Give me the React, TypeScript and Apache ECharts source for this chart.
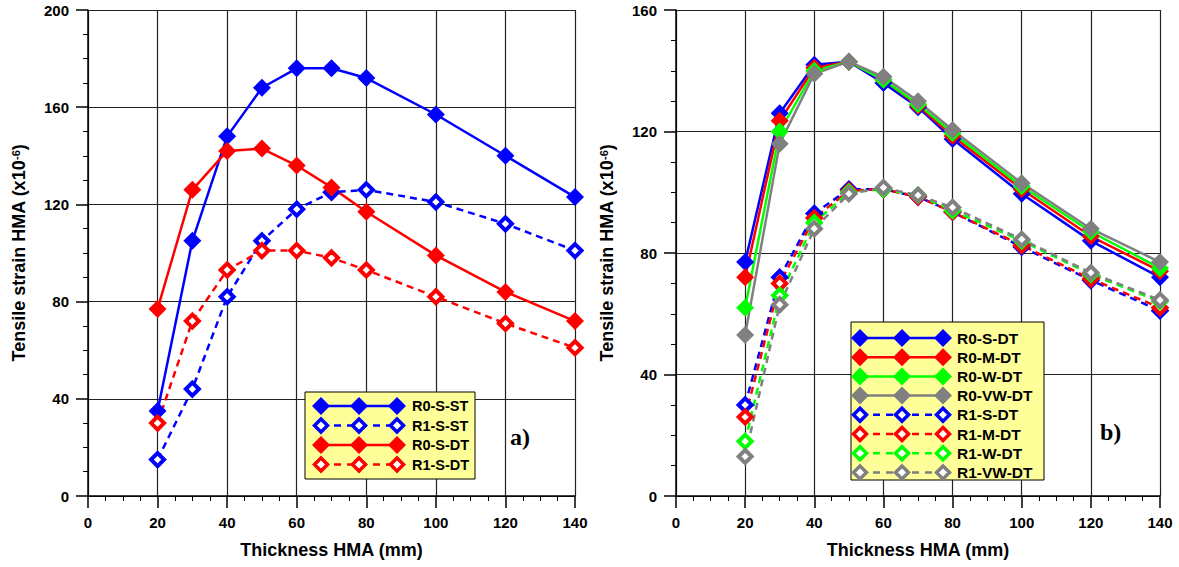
import React, { useEffect, useRef } from "react";
import * as echarts from "echarts";

const xValues = [20, 30, 40, 50, 60, 70, 80, 100, 120, 140];

// Panel a)
const aR0SST = [35, 105, 148, 168, 176, 176, 172, 157, 140, 123];
const aR1SST = [15, 44, 82, 105, 118, 125, 126, 121, 112, 101];
const aR0SDT = [77, 126, 142, 143, 136, 127, 117, 99, 84, 72];
const aR1SDT = [30, 72, 93, 101, 101, 98, 93, 82, 71, 61];

// Panel b)
const bR0SDT = [77, 126, 142, 143, 136, 128, 117.5, 99.5, 84, 72];
const bR0MDT = [72, 123.5, 141, 143, 137, 128.5, 118.5, 101, 85.5, 74];
const bR0WDT = [62, 120, 140, 143, 137, 129, 119.5, 102, 87, 75];
const bR0VWDT = [53, 116, 139, 143, 138, 130, 120.5, 103, 88, 77];
const bR1SDT = [30, 72, 93, 101, 101, 98.5, 93.5, 82, 71, 61];
const bR1MDT = [26, 70, 91.5, 100.5, 101, 98.5, 93.5, 82.5, 71.5, 62];
const bR1WDT = [18, 66, 90, 100, 101, 99, 94, 84, 73, 64];
const bR1VWDT = [13, 63, 88, 99.5, 101.5, 99, 95, 84.5, 73.5, 64.5];

const xTicks = { min: 0, max: 140, interval: 20 };
const yTicksA = { min: 0, max: 200, interval: 40 };
const yTicksB = { min: 0, max: 160, interval: 40 };

const BLUE = "#0000FF";
const RED = "#FF0000";
const GREEN = "#00FF00";
const GRAY = "#808080";

type Entry = { name: string; color: string; dashed: boolean; data: number[] };

const seriesA: Entry[] = [
  { name: "R0-S-ST", color: BLUE, dashed: false, data: aR0SST },
  { name: "R1-S-ST", color: BLUE, dashed: true, data: aR1SST },
  { name: "R0-S-DT", color: RED, dashed: false, data: aR0SDT },
  { name: "R1-S-DT", color: RED, dashed: true, data: aR1SDT },
];

const seriesB: Entry[] = [
  { name: "R0-S-DT", color: BLUE, dashed: false, data: bR0SDT },
  { name: "R0-M-DT", color: RED, dashed: false, data: bR0MDT },
  { name: "R0-W-DT", color: GREEN, dashed: false, data: bR0WDT },
  { name: "R0-VW-DT", color: GRAY, dashed: false, data: bR0VWDT },
  { name: "R1-S-DT", color: BLUE, dashed: true, data: bR1SDT },
  { name: "R1-M-DT", color: RED, dashed: true, data: bR1MDT },
  { name: "R1-W-DT", color: GREEN, dashed: true, data: bR1WDT },
  { name: "R1-VW-DT", color: GRAY, dashed: true, data: bR1VWDT },
];

const FONT = "'Liberation Sans', Arial, sans-serif";

function makeSeries(entries: Entry[], idx: number) {
  return entries.map((e) => ({
    type: "line",
    name: e.name,
    xAxisIndex: idx,
    yAxisIndex: idx,
    data: xValues.map((x, i) => [x, e.data[i]]),
    symbol: "diamond",
    symbolSize: e.dashed ? 13 : 18,
    showSymbol: true,
    lineStyle: {
      color: e.color,
      width: 2.5,
      type: e.dashed ? [7, 5] : "solid",
    },
    itemStyle: e.dashed
      ? { color: "#FFFFFF", borderColor: e.color, borderWidth: 4 }
      : { color: e.color, borderWidth: 0 },
    emphasis: { disabled: true },
  }));
}

function diamond(cx: number, cy: number, r: number) {
  return [
    [cx, cy - r],
    [cx + r, cy],
    [cx, cy + r],
    [cx - r, cy],
  ];
}

function legendGraphic(
  entries: Entry[],
  box: { x: number; y: number; w: number; h: number },
  rowY0: number,
  dy: number,
  xs: number[],
  textX: number,
  fontSize: number
) {
  const els: any[] = [
    {
      type: "rect",
      shape: { x: box.x, y: box.y, width: box.w, height: box.h },
      style: { fill: "#FFFF99", stroke: "#000", lineWidth: 1 },
      z: 100,
    },
  ];
  entries.forEach((e, i) => {
    const y = rowY0 + i * dy;
    els.push({
      type: "line",
      shape: { x1: xs[0], y1: y, x2: xs[2], y2: y },
      style: {
        stroke: e.color,
        lineWidth: 2.5,
        lineDash: e.dashed ? [7, 6] : null,
      },
      z: 101,
    });
    xs.forEach((cx) => {
      els.push({
        type: "polygon",
        shape: { points: diamond(cx, y, e.dashed ? 6.5 : 9) },
        style: e.dashed
          ? { fill: "#FFFFFF", stroke: e.color, lineWidth: 3.5 }
          : { fill: e.color },
        z: 102,
      });
    });
    els.push({
      type: "text",
      style: {
        text: e.name,
        x: textX,
        y: y,
        font: `bold ${fontSize}px ${FONT}`,
        fill: "#000",
        verticalAlign: "middle",
        align: "left",
      },
      z: 103,
    });
  });
  return els;
}

function xAxis(idx: number) {
  return {
    type: "value",
    gridIndex: idx,
    ...xTicks,
    name: "Thickness HMA (mm)",
    nameLocation: "middle",
    nameGap: 45,
    nameTextStyle: { fontFamily: FONT, fontWeight: "bold", fontSize: 18, color: "#000" },
    axisLine: { show: true, onZero: false, lineStyle: { color: "#000", width: 1.5 } },
    axisTick: { show: true, length: 12, lineStyle: { color: "#000", width: 1.5 } },
    minorTick: { show: true, splitNumber: 4, length: 5, lineStyle: { color: "#000", width: 1 } },
    axisLabel: { fontFamily: FONT, fontWeight: "bold", fontSize: 15, color: "#000", margin: 19 },
    splitLine: { show: true, lineStyle: { color: "#222", width: 1.2 } },
  };
}

function yAxis(idx: number, t: { min: number; max: number; interval: number }) {
  return {
    type: "value",
    gridIndex: idx,
    ...t,
    name: "Tensile strain HMA (x10{sup|-6})",
    nameLocation: "middle",
    nameGap: 60,
    nameTextStyle: {
      fontFamily: FONT,
      fontWeight: "bold",
      fontSize: 18,
      color: "#000",
      rich: {
        sup: { fontFamily: FONT, fontWeight: "bold", fontSize: 11, verticalAlign: "top", color: "#000" },
      },
    },
    axisLine: { show: true, onZero: false, lineStyle: { color: "#000", width: 1.5 } },
    axisTick: { show: true, length: 12, lineStyle: { color: "#000", width: 1.5 } },
    minorTick: { show: true, splitNumber: 4, length: 5, lineStyle: { color: "#000", width: 1 } },
    axisLabel: { fontFamily: FONT, fontWeight: "bold", fontSize: 15, color: "#000", margin: 19 },
    splitLine: { show: true, lineStyle: { color: "#222", width: 1.2 } },
  };
}

export default function App() {
  const ref = useRef<HTMLDivElement>(null);
  useEffect(() => {
    if (!ref.current) return;
    const chart = echarts.init(ref.current, null, { renderer: "svg" });
    const option: any = {
      animation: false,
      backgroundColor: "#FFFFFF",
      grid: [
        { left: 88, top: 10, width: 487, height: 486 },
        { left: 676, top: 10, width: 484, height: 486 },
      ],
      xAxis: [xAxis(0), xAxis(1)],
      yAxis: [yAxis(0, yTicksA), yAxis(1, yTicksB)],
      series: [...makeSeries(seriesA, 0), ...makeSeries(seriesB, 1)],
      graphic: [
        ...legendGraphic(seriesA, { x: 305, y: 392, w: 170, h: 87 }, 406, 19.5, [321, 359, 397], 412, 14.5),
        ...legendGraphic(seriesB, { x: 851, y: 322, w: 193, h: 158 }, 338, 19.2, [860, 902, 943], 957, 15.5),
        {
          type: "text",
          style: { text: "a)", x: 510, y: 437, font: "bold 24px 'Liberation Serif', 'Times New Roman', serif", fill: "#000", verticalAlign: "middle" },
          z: 110,
        },
        {
          type: "text",
          style: { text: "b)", x: 1100, y: 432, font: "bold 24px 'Liberation Serif', 'Times New Roman', serif", fill: "#000", verticalAlign: "middle" },
          z: 110,
        },
      ],
    };
    chart.setOption(option);
    return () => chart.dispose();
  }, []);
  return (
    <div
      ref={ref}
      style={{ position: "fixed", left: 0, top: 0, width: 1179, height: 567, background: "#fff" }}
    />
  );
}
